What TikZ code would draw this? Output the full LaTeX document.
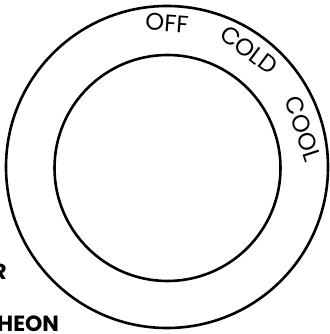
\documentclass[tikz,border=0pt]{standalone}
\usepackage{fontspec}
\setmainfont{Poppins}
\begin{document}
\begin{tikzpicture}[x=1pt,y=1pt,
ring/.style={circle,draw,line width=2.6pt,inner sep=0pt},
dial/.style={font=\fontsize{24}{24}\selectfont,inner sep=0pt},
brand/.style={font=\fontsize{22}{22}\selectfont\bfseries,inner sep=0pt}
]
\useasboundingbox (0,0) rectangle (329,334);
% dial rings
\node[ring,minimum size=322pt] (outer) at (167,167) {};
\node[ring,minimum size=226pt] (inner) at (167.5,166) {};
% settings
\node[dial,rotate=-4] (off) at (167,311) {OFF};
\node[dial,rotate=-37] (cold) at (249,284) {COLD};
\node[dial,rotate=-72] (cool) at (303,205) {COOL};
% maker
\node[brand,anchor=base east] (r) at (7,54) {R};
\node[brand,anchor=base west] (heon) at (-3,2) {HEON};
\end{tikzpicture}
\end{document}
